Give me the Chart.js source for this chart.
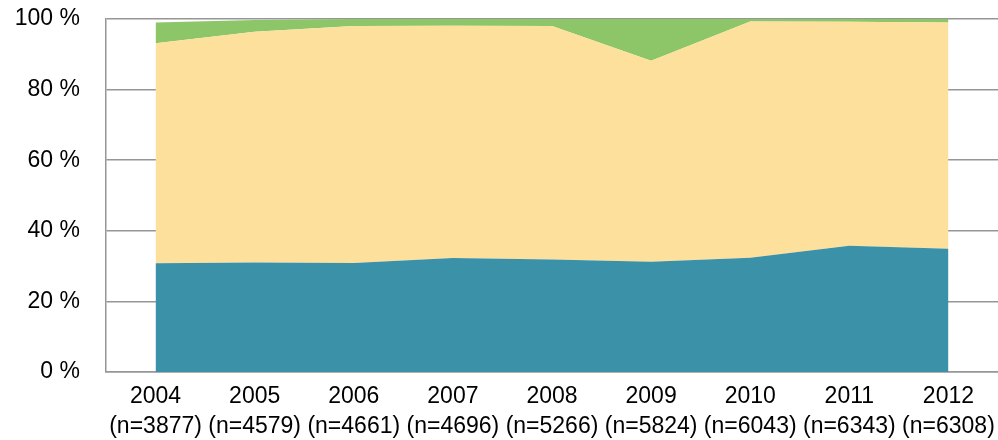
<!DOCTYPE html>
<html>
<head>
<meta charset="utf-8">
<script src="https://cdn.jsdelivr.net/npm/chart.js@4/dist/chart.umd.min.js"></script>
<style>
  html, body { margin: 0; padding: 0; background: #fff; }
  #wrap { width: 998px; height: 440px; position: relative; }
</style>
</head>
<body>
<div id="wrap"><canvas id="chart"></canvas></div>
<script>
let years = ['2004', '2005', '2006', '2007', '2008', '2009', '2010', '2011', '2012'];
let counts = ['(n=3877)', '(n=4579)', '(n=4661)', '(n=4696)', '(n=5266)', '(n=5824)', '(n=6043)', '(n=6343)', '(n=6308)'];

let bottomShare = [30.8, 31.0, 30.9, 32.3, 31.9, 31.2, 32.4, 35.8, 34.9];
let middleShare = [62.3, 65.4, 67.1, 65.8, 66.1, 57.0, 66.9, 63.4, 64.1];
let topShare = [5.9, 3.3, 2.0, 1.9, 2.0, 11.8, 0.7, 0.8, 1.0];

let yTicks = [0, 20, 40, 60, 80, 100];

let labels = years.map((y, i) => [y, counts[i]]);
let gridGray = 'rgb(150,150,150)';
let fontFamily = '"Liberation Sans", Arial, sans-serif';

let canvas = document.getElementById('chart');

new Chart(canvas, {
    type: 'line',
    data: {
        labels: labels,
        datasets: [
            { data: bottomShare, backgroundColor: 'rgb(58,145,168)', fill: 'origin' },
            { data: middleShare, backgroundColor: 'rgb(253,224,155)', fill: '-1' },
            { data: topShare, backgroundColor: 'rgb(141,198,104)', fill: '-1' }
        ]
    },
    options: {
        responsive: true,
        maintainAspectRatio: false,
        animation: false,
        layout: { padding: { top: 19, right: 0, left: 0, bottom: 0 } },
        elements: {
            line: { borderWidth: 0, tension: 0 },
            point: { radius: 0, hoverRadius: 0 }
        },
        plugins: {
            legend: { display: false },
            tooltip: { enabled: false }
        },
        scales: {
            x: {
                offset: true,
                grid: { display: false },
                border: { display: true, color: gridGray, width: 1.5 },
                ticks: {
                    autoSkip: false,
                    maxRotation: 0,
                    color: '#000',
                    padding: 1,
                    font: { family: fontFamily, size: 23, lineHeight: 1.33 }
                },
                afterFit: (scale) => {
                    scale.height = 68;
                    scale.paddingTop = 0;
                    scale.paddingBottom = 0;
                }
            },
            y: {
                stacked: true,
                min: 0,
                max: 100,
                afterBuildTicks: (scale) => { scale.ticks = yTicks.map(v => ({ value: v })); },
                grid: { color: gridGray, lineWidth: 1.5, drawTicks: false },
                border: { display: true, color: gridGray, width: 1.5 },
                ticks: {
                    color: '#000',
                    padding: 26,
                    font: { family: fontFamily, size: 23 },
                    callback: (v) => v + ' %'
                },
                afterFit: (scale) => {
                    scale.width = 106;
                    scale.paddingTop = 0;
                    scale.paddingBottom = 0;
                }
            }
        }
    }
});
</script>
</body>
</html>
